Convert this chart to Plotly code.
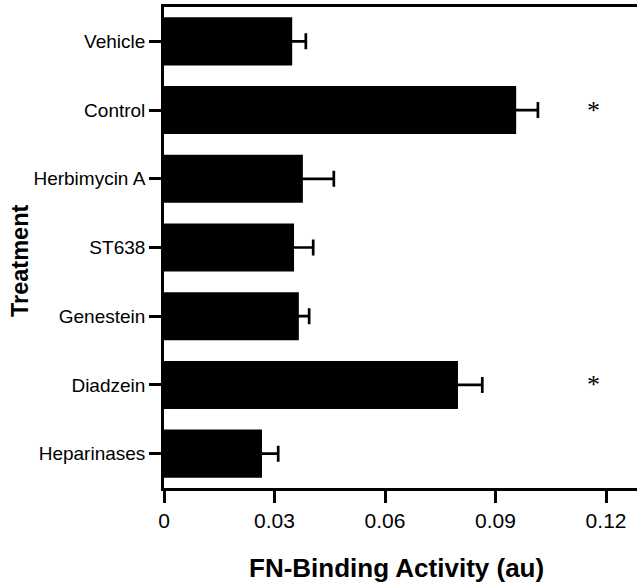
import plotly.graph_objects as go

treatments = ["Vehicle", "Control", "Herbimycin A", "ST638", "Genestein", "Diadzein", "Heparinases"]
activity = [0.0348, 0.0956, 0.0377, 0.0353, 0.0366, 0.0798, 0.0266]
error = [0.0037, 0.0059, 0.0084, 0.0052, 0.0028, 0.0066, 0.0044]
significant = ["Control", "Diadzein"]
star_x = 0.1167
x_ticks = [0, 0.03, 0.06, 0.09, 0.12]
x_tick_labels = ["0", "0.03", "0.06", "0.09", "0.12"]
x_title = "FN-Binding Activity (au)"
y_title = "Treatment"

fig = go.Figure()
fig.add_trace(go.Bar(
    y=treatments,
    x=activity,
    orientation="h",
    width=0.7,
    marker=dict(color="black", line=dict(width=0)),
    error_x=dict(type="data", array=error, symmetric=True,
                 color="black", thickness=2.7, width=8),
    showlegend=False,
))

for t in significant:
    fig.add_annotation(x=star_x, y=t, xref="x", yref="y", text="*", showarrow=False,
                       font=dict(family="Liberation Serif", size=26, color="black"),
                       yshift=0)

# axis titles
fig.add_annotation(x=-0.3044, y=0.472, xref="paper", yref="paper", text="<b>%s</b>" % y_title,
                   textangle=-90, showarrow=False, xanchor="center", yanchor="middle",
                   font=dict(size=23.5, family="Liberation Sans", color="black"))
fig.add_annotation(x=0.4905, y=-0.166, xref="paper", yref="paper", text="<b>%s</b>" % x_title,
                   showarrow=False, xanchor="center", yanchor="middle",
                   font=dict(size=26, family="Liberation Sans", color="black"))

fig.update_layout(
    width=637, height=583,
    margin=dict(l=164, r=0, t=7, b=95),
    plot_bgcolor="white", paper_bgcolor="white",
    font=dict(family="Liberation Sans", color="black"),
)
fig.update_xaxes(
    range=[0, 0.1284], tickvals=x_ticks, ticktext=x_tick_labels,
    showgrid=False, zeroline=False, showline=True, linecolor="black", linewidth=2.7,
    mirror=True, ticks="outside", ticklen=12, tickwidth=2.7, tickcolor="black",
    tickfont=dict(size=21, family="Liberation Sans"),
)
fig.update_yaxes(
    range=[6.5, -0.5], categoryorder="array", categoryarray=treatments,
    showgrid=False, zeroline=False, showline=True, linecolor="black", linewidth=2.7,
    ticks="outside", ticklen=12, tickwidth=2.7, tickcolor="black",
    tickfont=dict(size=19, family="Liberation Sans"),
)

fig.write_html("out.html", config={"displayModeBar": False},
               post_script="document.body.style.margin='0px';")
